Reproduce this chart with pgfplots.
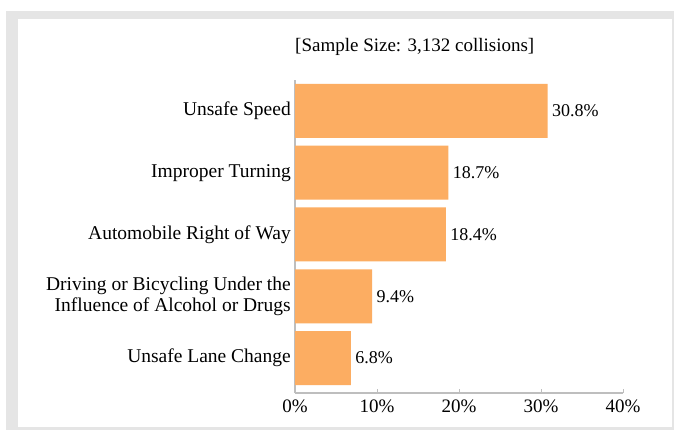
\documentclass[border=0pt]{standalone}
\usepackage{fontspec}
\setmainfont{Liberation Serif}
\usepackage{pgfplots}
\pgfplotsset{compat=1.18}
\definecolor{barorange}{RGB}{252,173,98}
\definecolor{framegray}{RGB}{229,229,229}
\definecolor{axisgray}{RGB}{190,190,190}
\begin{document}
\fontsize{19}{21}\selectfont
\begin{tikzpicture}[x=1pt,y=1pt]
\fill[framegray] (6,0) rectangle (674,419);
\fill[white] (18,3) rectangle (672,411);
\begin{axis}[
  at={(295pt,37pt)}, anchor=south west,
  scale only axis, width=328pt, height=313pt,
  /pgf/number format/assume math mode=true,
  xbar, bar width=0.874,
  xmin=0, xmax=40, ymin=-0.565, ymax=4.5,
  axis x line*=bottom, axis y line*=left,
  axis line style={axisgray, line width=1.2pt},
  xtick={0,10,20,30,40},
  xticklabels={0\%,10\%,20\%,30\%,40\%},
  ytick={0,1,2,3,4},
  yticklabels={Unsafe Lane Change,{Driving or Bicycling Under the\\Influence of Alcohol or Drugs},Automobile Right of Way,Improper Turning,Unsafe Speed},
  yticklabel style={align=right, inner xsep=4pt, font=\fontsize{19.5}{21}\selectfont},
  xticklabel style={font=\fontsize{19}{21}\selectfont},
  ytick style={draw=none},
  xtick style={axisgray, line width=1pt},
  tick align=inside, major tick length=4pt,
  point meta=x,
  nodes near coords={\pgfmathprintnumber[fixed,fixed zerofill,precision=1,assume math mode=true]{\pgfplotspointmeta}\%},
  nodes near coords style={anchor=west, xshift=-2pt, font=\fontsize{18}{20}\selectfont, black},
  clip=false,
]
\addplot[fill=barorange, draw=none] coordinates {(6.8,0) (9.4,1) (18.4,2) (18.7,3) (30.8,4)};
\end{axis}
\node[anchor=west, inner sep=0pt] at (295,383) {[Sample Size: 3,132 collisions]};
\pgfresetboundingbox
\path (0,0) rectangle (674,430);
\end{tikzpicture}
\end{document}
